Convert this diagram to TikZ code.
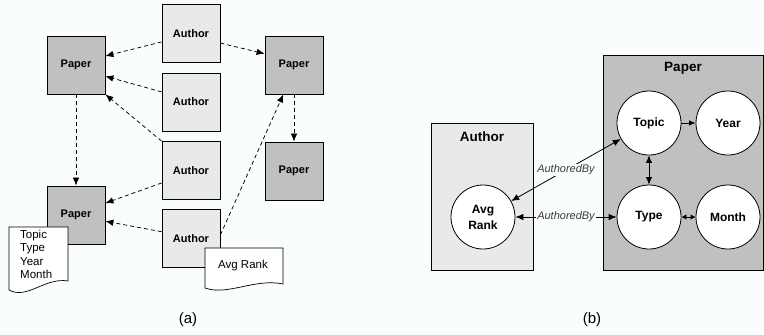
\documentclass[tikz,border=0pt]{standalone}
\usepackage{fontspec}
\setmainfont{Liberation Sans}
\usetikzlibrary{arrows.meta,calc}
\definecolor{papergray}{RGB}{192,192,192}
\definecolor{authorgray}{RGB}{233,233,233}
\definecolor{bgcol}{RGB}{250,253,253}
\definecolor{labgray}{RGB}{60,60,60}
\begin{document}
\begin{tikzpicture}[x=1pt,y=-1pt,
  boxbase/.style={draw=black, line width=0.8pt, minimum width=58pt, minimum height=58pt, inner sep=0pt, font=\fontsize{11}{13}\selectfont\bfseries},
  paper/.style={boxbase, fill=papergray},
  author/.style={boxbase, fill=authorgray},
  dep/.style={line width=0.75pt, dash pattern=on 4pt off 3pt, -{Latex[length=8pt,width=6.5pt]}},
  docshape/.style={draw=black, line width=0.7pt, fill=white},
  doctext/.style={font=\fontsize{11.5}{13.3}\selectfont, align=left, inner sep=0pt},
  bigbox/.style={draw=black, line width=0.8pt, inner sep=0pt},
  title/.style={font=\fontsize{13.5}{15}\selectfont\bfseries},
  circ/.style={circle, draw=black, line width=0.8pt, fill=white, minimum size=64pt, inner sep=0pt, align=center, font=\fontsize{12}{16}\selectfont\bfseries},
  rel/.style={line width=0.8pt},
  lab/.style={font=\fontsize{11}{12}\selectfont\itshape, text=labgray, fill=bgcol, inner sep=1pt},
  caption/.style={font=\fontsize{15}{17}\selectfont}
]
\useasboundingbox (0,0) rectangle (764,335);
\fill[bgcol] (0,0) rectangle (764,335);

% ---------- (a) ----------
\node[paper] (p1) at (76,65) {Paper};
\node[author] (a1) at (191,33.5) {Author};
\node[author] (a2) at (191,102) {Author};
\node[author] (a3) at (191,170.5) {Author};
\node[paper] (p2) at (294,65) {Paper};
\node[paper] (p3) at (294,171) {Paper};
\node[paper] (p4) at (76,215) {Paper};
\node[author] (a4) at (191,238.5) {Author};

\draw[dep] (a1.196) -- (p1.17);
\draw[dep] (a1.-18) -- (p2.159);
\draw[dep] (a2.161) -- (p1.-21);
\draw[dep] (a3.north west) -- (p1.south east);
\draw[dep] (p1) -- (p4);
\draw[dep] (p2) -- (p3);
\draw[dep] (a3.203) -- (p4.22);
\draw[dep] (a4.167) -- (p4.-12);
\draw[dep] (a4.7) -- (p2.250);

\draw[docshape] (9,227) -- (68,227) -- (68,281) .. controls (45,277) and (27,300) .. (9,290) -- cycle;
\node[doctext, anchor=north west] (attrs) at (20,230) {Topic\\Type\\Year\\Month};

\draw[docshape] (205,248) -- (283,248) -- (283,284) .. controls (255,278) and (228,296) .. (205,288) -- cycle;
\node[doctext] (avgdoc) at (243,266) {Avg Rank};

\node[caption] (capa) at (188,320) {(a)};

% ---------- (b) ----------
\node[bigbox, fill=authorgray, minimum width=102pt, minimum height=147pt] (authorbox) at (482,196.5) {};
\node[title] (authortitle) at (482,137) {Author};
\node[bigbox, fill=papergray, minimum width=160pt, minimum height=215pt] (paperbox) at (683,162.5) {};
\node[title] (papertitle) at (683,68) {Paper};

\node[circ] (avg) at (483,217) {Avg\\Rank};
\node[circ] (topic) at (649,123) {Topic};
\node[circ] (year) at (728,123) {Year};
\node[circ] (type) at (649,217) {Type};
\node[circ] (month) at (728,217) {Month};

\draw[rel, {Latex[length=8pt,width=6.5pt]}-{Latex[length=8pt,width=6.5pt]}] (topic) -- node[lab] {AuthoredBy} (avg);
\draw[rel, {Latex[length=8pt,width=6.5pt]}-{Latex[length=8pt,width=6.5pt]}] (avg) -- node[lab] {AuthoredBy} (type);
\draw[rel, -{Latex[length=6.5pt,width=5.5pt]}] (topic) -- (year);
\draw[rel, {Latex[length=7.5pt,width=6.5pt]}-{Latex[length=7.5pt,width=6.5pt]}] (topic) -- (type);
\draw[rel, {Latex[length=5pt,width=5.5pt]}-{Latex[length=5pt,width=5.5pt]}] (type) -- (month);

\node[caption] (capb) at (592,320) {(b)};
\end{tikzpicture}
\end{document}
